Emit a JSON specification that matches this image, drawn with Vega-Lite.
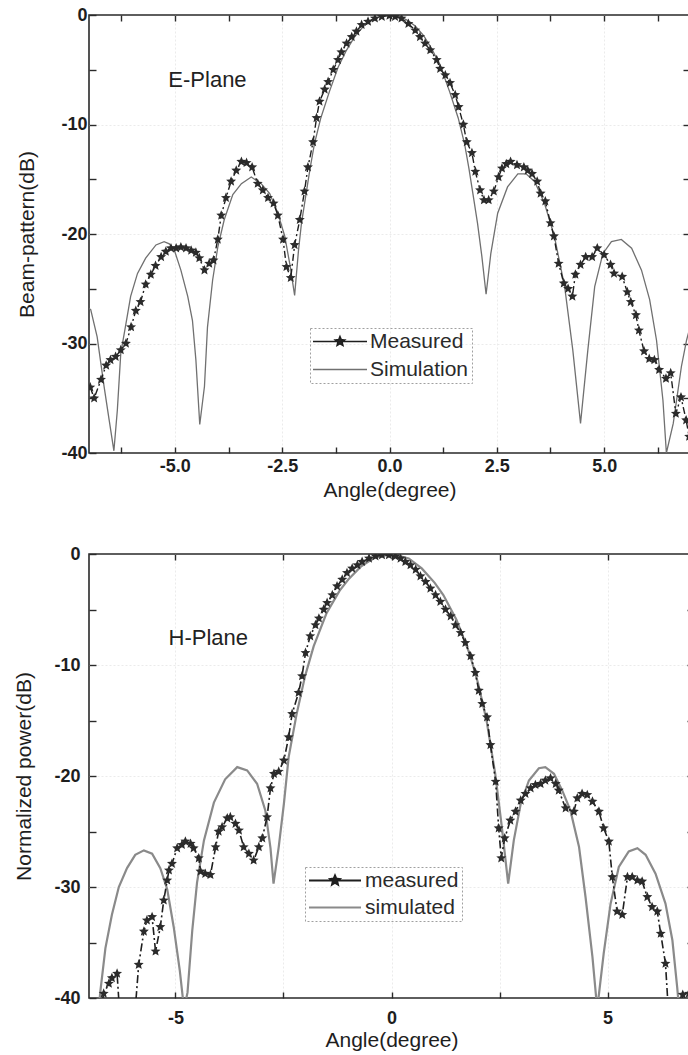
{
  "$schema": "https://vega.github.io/schema/vega-lite/v6.json",
  "background": "white",
  "padding": {"left": 13, "top": 5, "right": 0, "bottom": 0},
  "spacing": 43,
  "datasets": {
    "e_meas": [
      {"angle": -6.97, "db": -34.0, "series": "Measured"}, {"angle": -6.88, "db": -35.0, "series": "Measured"}, {"angle": -6.72, "db": -33.3, "series": "Measured"}, {"angle": -6.6, "db": -32.0, "series": "Measured"}, {"angle": -6.5, "db": -31.5, "series": "Measured"}, {"angle": -6.38, "db": -31.2, "series": "Measured"}, {"angle": -6.26, "db": -30.6, "series": "Measured"}, {"angle": -6.14, "db": -30.0, "series": "Measured"}, {"angle": -6.02, "db": -28.5, "series": "Measured"}, {"angle": -5.91, "db": -27.0, "series": "Measured"}, {"angle": -5.8, "db": -26.2, "series": "Measured"}, {"angle": -5.68, "db": -24.6, "series": "Measured"}, {"angle": -5.56, "db": -23.7, "series": "Measured"}, {"angle": -5.45, "db": -22.9, "series": "Measured"}, {"angle": -5.32, "db": -22.1, "series": "Measured"}, {"angle": -5.21, "db": -21.6, "series": "Measured"}, {"angle": -5.09, "db": -21.3, "series": "Measured"}, {"angle": -4.97, "db": -21.3, "series": "Measured"}, {"angle": -4.86, "db": -21.2, "series": "Measured"}, {"angle": -4.74, "db": -21.3, "series": "Measured"}, {"angle": -4.62, "db": -21.5, "series": "Measured"}, {"angle": -4.51, "db": -21.7, "series": "Measured"}, {"angle": -4.43, "db": -22.2, "series": "Measured"}, {"angle": -4.31, "db": -23.3, "series": "Measured"}, {"angle": -4.2, "db": -22.7, "series": "Measured"}, {"angle": -4.1, "db": -22.4, "series": "Measured"}, {"angle": -4.0, "db": -20.5, "series": "Measured"}, {"angle": -3.92, "db": -18.3, "series": "Measured"}, {"angle": -3.81, "db": -16.7, "series": "Measured"}, {"angle": -3.69, "db": -15.2, "series": "Measured"}, {"angle": -3.57, "db": -14.2, "series": "Measured"}, {"angle": -3.45, "db": -13.4, "series": "Measured"}, {"angle": -3.33, "db": -13.5, "series": "Measured"}, {"angle": -3.2, "db": -13.9, "series": "Measured"}, {"angle": -3.07, "db": -15.4, "series": "Measured"}, {"angle": -2.95, "db": -16.0, "series": "Measured"}, {"angle": -2.83, "db": -16.7, "series": "Measured"}, {"angle": -2.7, "db": -17.2, "series": "Measured"}, {"angle": -2.6, "db": -18.3, "series": "Measured"}, {"angle": -2.48, "db": -20.5, "series": "Measured"}, {"angle": -2.4, "db": -23.0, "series": "Measured"}, {"angle": -2.3, "db": -24.0, "series": "Measured"}, {"angle": -2.21, "db": -21.0, "series": "Measured"}, {"angle": -2.09, "db": -18.7, "series": "Measured"}, {"angle": -1.98, "db": -16.1, "series": "Measured"}, {"angle": -1.9, "db": -13.9, "series": "Measured"}, {"angle": -1.78, "db": -11.6, "series": "Measured"}, {"angle": -1.7, "db": -9.4, "series": "Measured"}, {"angle": -1.63, "db": -7.9, "series": "Measured"}, {"angle": -1.51, "db": -6.8, "series": "Measured"}, {"angle": -1.43, "db": -6.1, "series": "Measured"}, {"angle": -1.31, "db": -5.0, "series": "Measured"}, {"angle": -1.2, "db": -4.1, "series": "Measured"}, {"angle": -1.12, "db": -3.4, "series": "Measured"}, {"angle": -1.0, "db": -2.6, "series": "Measured"}, {"angle": -0.88, "db": -2.0, "series": "Measured"}, {"angle": -0.77, "db": -1.5, "series": "Measured"}, {"angle": -0.65, "db": -0.9, "series": "Measured"}, {"angle": -0.5, "db": -0.6, "series": "Measured"}, {"angle": -0.34, "db": -0.3, "series": "Measured"}, {"angle": -0.18, "db": -0.15, "series": "Measured"}, {"angle": 0.0, "db": -0.05, "series": "Measured"}, {"angle": 0.13, "db": -0.15, "series": "Measured"}, {"angle": 0.28, "db": -0.3, "series": "Measured"}, {"angle": 0.44, "db": -0.8, "series": "Measured"}, {"angle": 0.6, "db": -1.4, "series": "Measured"}, {"angle": 0.71, "db": -2.0, "series": "Measured"}, {"angle": 0.83, "db": -2.6, "series": "Measured"}, {"angle": 0.95, "db": -3.2, "series": "Measured"}, {"angle": 1.1, "db": -4.1, "series": "Measured"}, {"angle": 1.18, "db": -4.9, "series": "Measured"}, {"angle": 1.3, "db": -5.5, "series": "Measured"}, {"angle": 1.41, "db": -6.2, "series": "Measured"}, {"angle": 1.53, "db": -7.3, "series": "Measured"}, {"angle": 1.61, "db": -8.4, "series": "Measured"}, {"angle": 1.72, "db": -10.0, "series": "Measured"}, {"angle": 1.8, "db": -11.6, "series": "Measured"}, {"angle": 1.92, "db": -12.6, "series": "Measured"}, {"angle": 2.0, "db": -14.3, "series": "Measured"}, {"angle": 2.11, "db": -16.0, "series": "Measured"}, {"angle": 2.2, "db": -16.9, "series": "Measured"}, {"angle": 2.31, "db": -16.9, "series": "Measured"}, {"angle": 2.43, "db": -16.1, "series": "Measured"}, {"angle": 2.54, "db": -14.8, "series": "Measured"}, {"angle": 2.62, "db": -14.0, "series": "Measured"}, {"angle": 2.72, "db": -13.6, "series": "Measured"}, {"angle": 2.82, "db": -13.4, "series": "Measured"}, {"angle": 2.97, "db": -13.7, "series": "Measured"}, {"angle": 3.13, "db": -13.9, "series": "Measured"}, {"angle": 3.22, "db": -14.2, "series": "Measured"}, {"angle": 3.32, "db": -14.5, "series": "Measured"}, {"angle": 3.44, "db": -15.2, "series": "Measured"}, {"angle": 3.52, "db": -16.3, "series": "Measured"}, {"angle": 3.63, "db": -17.0, "series": "Measured"}, {"angle": 3.75, "db": -19.0, "series": "Measured"}, {"angle": 3.83, "db": -20.2, "series": "Measured"}, {"angle": 3.94, "db": -22.7, "series": "Measured"}, {"angle": 4.06, "db": -24.5, "series": "Measured"}, {"angle": 4.16, "db": -25.0, "series": "Measured"}, {"angle": 4.26, "db": -25.7, "series": "Measured"}, {"angle": 4.33, "db": -23.7, "series": "Measured"}, {"angle": 4.45, "db": -22.8, "series": "Measured"}, {"angle": 4.57, "db": -22.1, "series": "Measured"}, {"angle": 4.72, "db": -22.1, "series": "Measured"}, {"angle": 4.84, "db": -21.3, "series": "Measured"}, {"angle": 5.0, "db": -21.9, "series": "Measured"}, {"angle": 5.15, "db": -22.8, "series": "Measured"}, {"angle": 5.23, "db": -23.6, "series": "Measured"}, {"angle": 5.42, "db": -23.9, "series": "Measured"}, {"angle": 5.54, "db": -25.3, "series": "Measured"}, {"angle": 5.62, "db": -26.2, "series": "Measured"}, {"angle": 5.74, "db": -27.4, "series": "Measured"}, {"angle": 5.81, "db": -28.8, "series": "Measured"}, {"angle": 5.93, "db": -30.7, "series": "Measured"}, {"angle": 6.05, "db": -31.4, "series": "Measured"}, {"angle": 6.17, "db": -31.5, "series": "Measured"}, {"angle": 6.28, "db": -32.4, "series": "Measured"}, {"angle": 6.44, "db": -33.2, "series": "Measured"}, {"angle": 6.55, "db": -32.7, "series": "Measured"}, {"angle": 6.67, "db": -36.4, "series": "Measured"}, {"angle": 6.79, "db": -34.9, "series": "Measured"}, {"angle": 6.91, "db": -37.0, "series": "Measured"}, {"angle": 6.98, "db": -38.5, "series": "Measured"}
    ],
    "e_sim": [
      {"angle": -7.0, "db": -26.8, "series": "Simulation"}, {"angle": -6.96, "db": -26.9, "series": "Simulation"}, {"angle": -6.81, "db": -29.4, "series": "Simulation"}, {"angle": -6.65, "db": -33.9, "series": "Simulation"}, {"angle": -6.53, "db": -37.0, "series": "Simulation"}, {"angle": -6.42, "db": -39.8, "series": "Simulation"}, {"angle": -6.34, "db": -36.1, "series": "Simulation"}, {"angle": -6.26, "db": -30.9, "series": "Simulation"}, {"angle": -6.14, "db": -28.2, "series": "Simulation"}, {"angle": -6.03, "db": -25.7, "series": "Simulation"}, {"angle": -5.87, "db": -23.6, "series": "Simulation"}, {"angle": -5.68, "db": -22.2, "series": "Simulation"}, {"angle": -5.44, "db": -21.0, "series": "Simulation"}, {"angle": -5.25, "db": -20.7, "series": "Simulation"}, {"angle": -5.13, "db": -20.9, "series": "Simulation"}, {"angle": -5.01, "db": -21.5, "series": "Simulation"}, {"angle": -4.86, "db": -23.3, "series": "Simulation"}, {"angle": -4.7, "db": -25.7, "series": "Simulation"}, {"angle": -4.59, "db": -27.9, "series": "Simulation"}, {"angle": -4.51, "db": -31.5, "series": "Simulation"}, {"angle": -4.42, "db": -37.4, "series": "Simulation"}, {"angle": -4.31, "db": -33.9, "series": "Simulation"}, {"angle": -4.24, "db": -28.5, "series": "Simulation"}, {"angle": -4.12, "db": -24.2, "series": "Simulation"}, {"angle": -4.0, "db": -21.2, "series": "Simulation"}, {"angle": -3.85, "db": -18.7, "series": "Simulation"}, {"angle": -3.65, "db": -16.4, "series": "Simulation"}, {"angle": -3.45, "db": -15.4, "series": "Simulation"}, {"angle": -3.22, "db": -14.8, "series": "Simulation"}, {"angle": -2.99, "db": -15.4, "series": "Simulation"}, {"angle": -2.79, "db": -16.3, "series": "Simulation"}, {"angle": -2.6, "db": -18.1, "series": "Simulation"}, {"angle": -2.44, "db": -20.2, "series": "Simulation"}, {"angle": -2.32, "db": -22.8, "series": "Simulation"}, {"angle": -2.21, "db": -25.6, "series": "Simulation"}, {"angle": -2.12, "db": -21.5, "series": "Simulation"}, {"angle": -2.05, "db": -19.0, "series": "Simulation"}, {"angle": -1.95, "db": -16.5, "series": "Simulation"}, {"angle": -1.85, "db": -14.0, "series": "Simulation"}, {"angle": -1.75, "db": -11.8, "series": "Simulation"}, {"angle": -1.6, "db": -9.4, "series": "Simulation"}, {"angle": -1.4, "db": -7.0, "series": "Simulation"}, {"angle": -1.2, "db": -4.8, "series": "Simulation"}, {"angle": -1.0, "db": -3.2, "series": "Simulation"}, {"angle": -0.8, "db": -1.9, "series": "Simulation"}, {"angle": -0.6, "db": -1.0, "series": "Simulation"}, {"angle": -0.4, "db": -0.45, "series": "Simulation"}, {"angle": -0.2, "db": -0.1, "series": "Simulation"}, {"angle": 0.0, "db": 0.0, "series": "Simulation"}, {"angle": 0.2, "db": -0.1, "series": "Simulation"}, {"angle": 0.4, "db": -0.45, "series": "Simulation"}, {"angle": 0.6, "db": -1.0, "series": "Simulation"}, {"angle": 0.8, "db": -1.9, "series": "Simulation"}, {"angle": 1.0, "db": -3.2, "series": "Simulation"}, {"angle": 1.2, "db": -4.8, "series": "Simulation"}, {"angle": 1.4, "db": -7.0, "series": "Simulation"}, {"angle": 1.6, "db": -9.4, "series": "Simulation"}, {"angle": 1.75, "db": -11.8, "series": "Simulation"}, {"angle": 1.85, "db": -14.0, "series": "Simulation"}, {"angle": 1.95, "db": -16.5, "series": "Simulation"}, {"angle": 2.05, "db": -19.0, "series": "Simulation"}, {"angle": 2.15, "db": -22.0, "series": "Simulation"}, {"angle": 2.25, "db": -25.5, "series": "Simulation"}, {"angle": 2.36, "db": -21.8, "series": "Simulation"}, {"angle": 2.52, "db": -18.1, "series": "Simulation"}, {"angle": 2.75, "db": -15.7, "series": "Simulation"}, {"angle": 2.99, "db": -14.5, "series": "Simulation"}, {"angle": 3.18, "db": -14.5, "series": "Simulation"}, {"angle": 3.38, "db": -15.2, "series": "Simulation"}, {"angle": 3.61, "db": -17.2, "series": "Simulation"}, {"angle": 3.84, "db": -20.2, "series": "Simulation"}, {"angle": 4.08, "db": -24.8, "series": "Simulation"}, {"angle": 4.27, "db": -30.6, "series": "Simulation"}, {"angle": 4.45, "db": -37.3, "series": "Simulation"}, {"angle": 4.62, "db": -30.6, "series": "Simulation"}, {"angle": 4.78, "db": -24.8, "series": "Simulation"}, {"angle": 4.97, "db": -21.8, "series": "Simulation"}, {"angle": 5.17, "db": -20.7, "series": "Simulation"}, {"angle": 5.4, "db": -20.5, "series": "Simulation"}, {"angle": 5.64, "db": -21.3, "series": "Simulation"}, {"angle": 5.87, "db": -23.3, "series": "Simulation"}, {"angle": 6.06, "db": -26.0, "series": "Simulation"}, {"angle": 6.22, "db": -29.7, "series": "Simulation"}, {"angle": 6.37, "db": -35.2, "series": "Simulation"}, {"angle": 6.45, "db": -40.0, "series": "Simulation"}, {"angle": 6.61, "db": -37.3, "series": "Simulation"}, {"angle": 6.8, "db": -32.1, "series": "Simulation"}, {"angle": 6.92, "db": -29.7, "series": "Simulation"}, {"angle": 7.0, "db": -28.5, "series": "Simulation"}
    ],
    "h_meas": [
      {"angle": -6.75, "db": -41.5, "series": "measured"}, {"angle": -6.66, "db": -39.6, "series": "measured"}, {"angle": -6.54, "db": -38.7, "series": "measured"}, {"angle": -6.47, "db": -38.2, "series": "measured"}, {"angle": -6.35, "db": -37.8, "series": "measured"}, {"angle": -6.28, "db": -42.0, "series": "measured"}, {"angle": -5.95, "db": -42.0, "series": "measured"}, {"angle": -5.85, "db": -37.0, "series": "measured"}, {"angle": -5.73, "db": -34.0, "series": "measured"}, {"angle": -5.66, "db": -33.0, "series": "measured"}, {"angle": -5.54, "db": -32.7, "series": "measured"}, {"angle": -5.46, "db": -35.8, "series": "measured"}, {"angle": -5.35, "db": -33.6, "series": "measured"}, {"angle": -5.27, "db": -31.2, "series": "measured"}, {"angle": -5.19, "db": -29.4, "series": "measured"}, {"angle": -5.15, "db": -28.5, "series": "measured"}, {"angle": -5.08, "db": -27.9, "series": "measured"}, {"angle": -4.96, "db": -26.5, "series": "measured"}, {"angle": -4.85, "db": -26.2, "series": "measured"}, {"angle": -4.77, "db": -25.9, "series": "measured"}, {"angle": -4.65, "db": -26.1, "series": "measured"}, {"angle": -4.58, "db": -26.5, "series": "measured"}, {"angle": -4.46, "db": -27.4, "series": "measured"}, {"angle": -4.42, "db": -28.6, "series": "measured"}, {"angle": -4.31, "db": -28.8, "series": "measured"}, {"angle": -4.19, "db": -28.9, "series": "measured"}, {"angle": -4.07, "db": -26.4, "series": "measured"}, {"angle": -4.0, "db": -25.0, "series": "measured"}, {"angle": -3.92, "db": -24.6, "series": "measured"}, {"angle": -3.8, "db": -23.8, "series": "measured"}, {"angle": -3.73, "db": -23.7, "series": "measured"}, {"angle": -3.61, "db": -24.3, "series": "measured"}, {"angle": -3.53, "db": -24.9, "series": "measured"}, {"angle": -3.42, "db": -26.4, "series": "measured"}, {"angle": -3.3, "db": -27.0, "series": "measured"}, {"angle": -3.19, "db": -27.6, "series": "measured"}, {"angle": -3.07, "db": -26.4, "series": "measured"}, {"angle": -2.99, "db": -25.6, "series": "measured"}, {"angle": -2.88, "db": -23.7, "series": "measured"}, {"angle": -2.8, "db": -21.1, "series": "measured"}, {"angle": -2.72, "db": -19.8, "series": "measured"}, {"angle": -2.61, "db": -19.6, "series": "measured"}, {"angle": -2.49, "db": -18.6, "series": "measured"}, {"angle": -2.38, "db": -16.5, "series": "measured"}, {"angle": -2.3, "db": -14.4, "series": "measured"}, {"angle": -2.15, "db": -12.5, "series": "measured"}, {"angle": -2.07, "db": -11.0, "series": "measured"}, {"angle": -1.99, "db": -8.9, "series": "measured"}, {"angle": -1.88, "db": -7.4, "series": "measured"}, {"angle": -1.76, "db": -6.4, "series": "measured"}, {"angle": -1.68, "db": -5.8, "series": "measured"}, {"angle": -1.57, "db": -5.0, "series": "measured"}, {"angle": -1.49, "db": -4.4, "series": "measured"}, {"angle": -1.37, "db": -3.7, "series": "measured"}, {"angle": -1.26, "db": -2.9, "series": "measured"}, {"angle": -1.14, "db": -2.3, "series": "measured"}, {"angle": -1.03, "db": -1.7, "series": "measured"}, {"angle": -0.91, "db": -1.3, "series": "measured"}, {"angle": -0.79, "db": -1.0, "series": "measured"}, {"angle": -0.68, "db": -0.7, "series": "measured"}, {"angle": -0.52, "db": -0.4, "series": "measured"}, {"angle": -0.37, "db": -0.2, "series": "measured"}, {"angle": -0.22, "db": -0.1, "series": "measured"}, {"angle": -0.06, "db": -0.1, "series": "measured"}, {"angle": 0.09, "db": -0.2, "series": "measured"}, {"angle": 0.21, "db": -0.4, "series": "measured"}, {"angle": 0.32, "db": -0.7, "series": "measured"}, {"angle": 0.44, "db": -1.0, "series": "measured"}, {"angle": 0.56, "db": -1.4, "series": "measured"}, {"angle": 0.67, "db": -2.0, "series": "measured"}, {"angle": 0.79, "db": -2.5, "series": "measured"}, {"angle": 0.9, "db": -3.1, "series": "measured"}, {"angle": 1.02, "db": -3.7, "series": "measured"}, {"angle": 1.13, "db": -4.3, "series": "measured"}, {"angle": 1.25, "db": -5.0, "series": "measured"}, {"angle": 1.37, "db": -5.6, "series": "measured"}, {"angle": 1.48, "db": -6.4, "series": "measured"}, {"angle": 1.6, "db": -7.1, "series": "measured"}, {"angle": 1.71, "db": -8.0, "series": "measured"}, {"angle": 1.83, "db": -9.2, "series": "measured"}, {"angle": 1.94, "db": -10.7, "series": "measured"}, {"angle": 2.02, "db": -12.3, "series": "measured"}, {"angle": 2.1, "db": -13.5, "series": "measured"}, {"angle": 2.21, "db": -14.7, "series": "measured"}, {"angle": 2.29, "db": -17.2, "series": "measured"}, {"angle": 2.41, "db": -20.5, "series": "measured"}, {"angle": 2.48, "db": -24.7, "series": "measured"}, {"angle": 2.54, "db": -27.4, "series": "measured"}, {"angle": 2.62, "db": -25.6, "series": "measured"}, {"angle": 2.75, "db": -24.0, "series": "measured"}, {"angle": 2.87, "db": -23.2, "series": "measured"}, {"angle": 2.99, "db": -22.2, "series": "measured"}, {"angle": 3.1, "db": -21.6, "series": "measured"}, {"angle": 3.22, "db": -21.1, "series": "measured"}, {"angle": 3.33, "db": -20.8, "series": "measured"}, {"angle": 3.45, "db": -20.7, "series": "measured"}, {"angle": 3.56, "db": -20.4, "series": "measured"}, {"angle": 3.68, "db": -20.2, "series": "measured"}, {"angle": 3.8, "db": -20.7, "series": "measured"}, {"angle": 3.87, "db": -21.3, "series": "measured"}, {"angle": 4.03, "db": -22.9, "series": "measured"}, {"angle": 4.22, "db": -23.2, "series": "measured"}, {"angle": 4.3, "db": -22.0, "series": "measured"}, {"angle": 4.41, "db": -21.6, "series": "measured"}, {"angle": 4.53, "db": -21.7, "series": "measured"}, {"angle": 4.65, "db": -22.3, "series": "measured"}, {"angle": 4.8, "db": -23.2, "series": "measured"}, {"angle": 4.91, "db": -24.7, "series": "measured"}, {"angle": 5.03, "db": -25.9, "series": "measured"}, {"angle": 5.11, "db": -29.1, "series": "measured"}, {"angle": 5.22, "db": -32.2, "series": "measured"}, {"angle": 5.34, "db": -32.5, "series": "measured"}, {"angle": 5.46, "db": -29.1, "series": "measured"}, {"angle": 5.57, "db": -29.1, "series": "measured"}, {"angle": 5.69, "db": -29.4, "series": "measured"}, {"angle": 5.8, "db": -29.5, "series": "measured"}, {"angle": 5.92, "db": -30.9, "series": "measured"}, {"angle": 6.03, "db": -31.8, "series": "measured"}, {"angle": 6.15, "db": -32.2, "series": "measured"}, {"angle": 6.23, "db": -34.2, "series": "measured"}, {"angle": 6.34, "db": -36.9, "series": "measured"}, {"angle": 6.42, "db": -42.0, "series": "measured"}, {"angle": 6.68, "db": -42.0, "series": "measured"}, {"angle": 6.74, "db": -39.7, "series": "measured"}, {"angle": 6.88, "db": -39.6, "series": "measured"}, {"angle": 7.0, "db": -39.8, "series": "measured"}
    ],
    "h_sim": [
      {"angle": -6.8, "db": -42.0, "series": "simulated"}, {"angle": -6.74, "db": -39.5, "series": "simulated"}, {"angle": -6.62, "db": -35.5, "series": "simulated"}, {"angle": -6.47, "db": -32.5, "series": "simulated"}, {"angle": -6.31, "db": -30.0, "series": "simulated"}, {"angle": -6.12, "db": -28.3, "series": "simulated"}, {"angle": -5.93, "db": -27.1, "series": "simulated"}, {"angle": -5.73, "db": -26.7, "series": "simulated"}, {"angle": -5.54, "db": -27.0, "series": "simulated"}, {"angle": -5.35, "db": -28.3, "series": "simulated"}, {"angle": -5.19, "db": -30.2, "series": "simulated"}, {"angle": -5.04, "db": -33.6, "series": "simulated"}, {"angle": -4.9, "db": -37.5, "series": "simulated"}, {"angle": -4.8, "db": -41.0, "series": "simulated"}, {"angle": -4.72, "db": -39.5, "series": "simulated"}, {"angle": -4.61, "db": -33.9, "series": "simulated"}, {"angle": -4.5, "db": -29.6, "series": "simulated"}, {"angle": -4.34, "db": -25.8, "series": "simulated"}, {"angle": -4.11, "db": -22.4, "series": "simulated"}, {"angle": -3.85, "db": -20.3, "series": "simulated"}, {"angle": -3.57, "db": -19.2, "series": "simulated"}, {"angle": -3.34, "db": -19.5, "series": "simulated"}, {"angle": -3.11, "db": -20.7, "series": "simulated"}, {"angle": -2.92, "db": -23.1, "series": "simulated"}, {"angle": -2.8, "db": -26.5, "series": "simulated"}, {"angle": -2.73, "db": -29.7, "series": "simulated"}, {"angle": -2.61, "db": -26.4, "series": "simulated"}, {"angle": -2.49, "db": -22.5, "series": "simulated"}, {"angle": -2.38, "db": -18.3, "series": "simulated"}, {"angle": -2.2, "db": -14.5, "series": "simulated"}, {"angle": -2.0, "db": -11.0, "series": "simulated"}, {"angle": -1.8, "db": -8.3, "series": "simulated"}, {"angle": -1.5, "db": -5.3, "series": "simulated"}, {"angle": -1.2, "db": -3.3, "series": "simulated"}, {"angle": -1.0, "db": -2.3, "series": "simulated"}, {"angle": -0.7, "db": -1.1, "series": "simulated"}, {"angle": -0.4, "db": -0.35, "series": "simulated"}, {"angle": 0.0, "db": 0.0, "series": "simulated"}, {"angle": 0.4, "db": -0.4, "series": "simulated"}, {"angle": 0.7, "db": -1.3, "series": "simulated"}, {"angle": 1.0, "db": -2.6, "series": "simulated"}, {"angle": 1.2, "db": -3.7, "series": "simulated"}, {"angle": 1.5, "db": -5.9, "series": "simulated"}, {"angle": 1.8, "db": -8.9, "series": "simulated"}, {"angle": 2.0, "db": -11.6, "series": "simulated"}, {"angle": 2.2, "db": -15.0, "series": "simulated"}, {"angle": 2.4, "db": -19.8, "series": "simulated"}, {"angle": 2.55, "db": -24.5, "series": "simulated"}, {"angle": 2.7, "db": -29.7, "series": "simulated"}, {"angle": 2.83, "db": -25.8, "series": "simulated"}, {"angle": 2.99, "db": -22.5, "series": "simulated"}, {"angle": 3.18, "db": -20.4, "series": "simulated"}, {"angle": 3.41, "db": -19.3, "series": "simulated"}, {"angle": 3.56, "db": -19.2, "series": "simulated"}, {"angle": 3.76, "db": -19.8, "series": "simulated"}, {"angle": 3.95, "db": -21.3, "series": "simulated"}, {"angle": 4.14, "db": -23.1, "series": "simulated"}, {"angle": 4.34, "db": -26.4, "series": "simulated"}, {"angle": 4.49, "db": -30.9, "series": "simulated"}, {"angle": 4.65, "db": -36.3, "series": "simulated"}, {"angle": 4.76, "db": -41.0, "series": "simulated"}, {"angle": 4.91, "db": -36.0, "series": "simulated"}, {"angle": 5.07, "db": -31.5, "series": "simulated"}, {"angle": 5.26, "db": -28.2, "series": "simulated"}, {"angle": 5.49, "db": -26.8, "series": "simulated"}, {"angle": 5.69, "db": -26.5, "series": "simulated"}, {"angle": 5.88, "db": -27.1, "series": "simulated"}, {"angle": 6.11, "db": -28.8, "series": "simulated"}, {"angle": 6.34, "db": -31.5, "series": "simulated"}, {"angle": 6.5, "db": -34.8, "series": "simulated"}, {"angle": 6.61, "db": -39.0, "series": "simulated"}, {"angle": 6.68, "db": -42.0, "series": "simulated"}
    ]
  },
  "vconcat": [
    {
      "width": 601,
      "height": 438,
      "layer": [
        {
          "data": {"name": "e_sim"},
          "mark": {"type": "line", "strokeWidth": 1.3, "clip": true},
          "encoding": {
            "x": {"field": "angle", "type": "quantitative", "scale": {"domain": [-7, 7], "nice": false, "zero": false},
              "axis": {"orient": "bottom", "values": [-6.25, -5, -3.75, -2.5, -1.25, 0, 1.25, 2.5, 3.75, 5, 6.25],
                "labelExpr": "datum.value % 2.5 == 0 ? (datum.value < 0 ? '-' : '') + format(abs(datum.value), '.1f') : ''",
                "tickSize": -6, "labelPadding": 10, "title": "Angle(degree)", "titlePadding": 4,
                "grid": true, "gridColor": {"condition": {"test": "datum.value % 2.5 == 0", "value": "#ebebeb"}, "value": "transparent"}}},
            "y": {"field": "db", "type": "quantitative", "scale": {"domain": [-40, 0], "nice": false, "zero": false},
              "axis": {"orient": "left", "values": [-40, -35, -30, -25, -20, -15, -10, -5, 0],
                "labelExpr": "datum.value % 10 == 0 ? (datum.value < 0 ? '-' + abs(datum.value) : '0') : ''",
                "tickSize": -7, "labelPadding": 9, "title": "Beam-pattern(dB)", "titlePadding": 23,
                "grid": true, "gridColor": {"condition": {"test": "datum.value % 10 == 0 && datum.value > -40 && datum.value < 0", "value": "#ebebeb"}, "value": "transparent"}}},
            "color": {"field": "series", "type": "nominal",
              "scale": {"domain": ["Measured", "Simulation"], "range": ["#1e1e1e", "#707070"]},
              "legend": {"orient": "none", "legendX": 221, "legendY": 313, "title": null,
                "symbolSize": 100, "symbolOffset": 16.5, "labelOffset": 19.5, "rowPadding": 6, "padding": 3,
                "strokeColor": "#a0a0a0", "labelFont": "Liberation Sans", "labelFontSize": 21, "labelColor": "#2a2a2a",
                "encode": {
                  "symbols": {"update": {
                    "shape": {"signal": "datum.value === 'Measured' ? 'M-5.4,0L5.4,0M0,-1L0.265,-0.364L0.951,-0.309L0.428,0.139L0.588,0.809L0,0.45L-0.588,0.809L-0.428,0.139L-0.951,-0.309L-0.265,-0.364Z' : 'M-5.4,0L5.4,0'"},
                    "size": {"value": 100},
                    "strokeDash": {"value": [1, 0]},
                    "fill": {"signal": "datum.value === 'Measured' ? '#2a2a2a' : 'transparent'"},
                    "stroke": {"signal": "datum.value === 'Measured' ? '#1e1e1e' : '#707070'"},
                    "strokeWidth": {"value": 1.5}
                  }},
                  "legend": {"update": {"strokeDash": {"value": [2, 2]}}}
                }}}
          }
        },
        {
          "data": {"name": "e_meas"},
          "mark": {"type": "line", "strokeWidth": 1.4, "strokeDash": [7, 3, 2, 3], "clip": true},
          "encoding": {
            "x": {"field": "angle", "type": "quantitative",
              "axis": {"orient": "top", "values": [-6.25, -5, -3.75, -2.5, -1.25, 0, 1.25, 2.5, 3.75, 5, 6.25], "labels": false, "title": null, "tickSize": -6, "grid": false}},
            "y": {"field": "db", "type": "quantitative",
              "axis": {"orient": "right", "values": [-35, -30, -25, -20, -15, -10, -5], "labels": false, "title": null, "tickSize": -7, "grid": false}},
            "color": {"field": "series", "type": "nominal"}
          }
        },
        {
          "data": {"name": "e_meas"},
          "mark": {"type": "point", "shape": "M0,-1L0.265,-0.364L0.951,-0.309L0.428,0.139L0.588,0.809L0,0.45L-0.588,0.809L-0.428,0.139L-0.951,-0.309L-0.265,-0.364Z", "filled": true, "size": 110, "color": "#2b2b2b", "opacity": 1, "clip": true},
          "encoding": {
            "x": {"field": "angle", "type": "quantitative", "axis": null},
            "y": {"field": "db", "type": "quantitative", "axis": null}
          }
        },
        {
          "data": {"values": [{"label": "E-Plane"}]},
          "mark": {"type": "text", "font": "Liberation Sans", "fontSize": 22, "color": "#222"},
          "encoding": {
            "x": {"datum": -4.24, "type": "quantitative", "axis": null},
            "y": {"datum": -5.9, "type": "quantitative", "axis": null},
            "text": {"field": "label"}
          }
        }
      ],
      "resolve": {"axis": {"x": "independent", "y": "independent"}}
    },
    {
      "width": 605,
      "height": 444,
      "layer": [
        {
          "data": {"name": "h_sim"},
          "mark": {"type": "line", "strokeWidth": 2.2, "clip": true},
          "encoding": {
            "x": {"field": "angle", "type": "quantitative", "scale": {"domain": [-7, 7], "nice": false, "zero": false},
              "axis": {"orient": "bottom", "values": [-5, -2.5, 0, 2.5, 5],
                "labelExpr": "datum.value % 5 == 0 ? (datum.value < 0 ? '-' + abs(datum.value) : '' + datum.value) : ''",
                "tickSize": -6, "labelPadding": 17, "title": "Angle(degree)", "titlePadding": 2,
                "grid": true, "gridColor": {"condition": {"test": "datum.value % 2.5 == 0", "value": "#ebebeb"}, "value": "transparent"}}},
            "y": {"field": "db", "type": "quantitative", "scale": {"domain": [-40, 0], "nice": false, "zero": false},
              "axis": {"orient": "left", "values": [-40, -35, -30, -25, -20, -15, -10, -5, 0],
                "labelExpr": "datum.value % 10 == 0 ? (datum.value < 0 ? '-' + abs(datum.value) : '0') : ''",
                "tickSize": -7, "labelPadding": 16, "title": "Normalized power(dB)", "titlePadding": 19,
                "grid": true, "gridColor": {"condition": {"test": "datum.value % 10 == 0 && datum.value > -40 && datum.value < 0", "value": "#ebebeb"}, "value": "transparent"}}},
            "color": {"field": "series", "type": "nominal",
              "scale": {"domain": ["measured", "simulated"], "range": ["#1e1e1e", "#8a8a8a"]},
              "legend": {"orient": "none", "legendX": 216, "legendY": 313, "title": null,
                "symbolSize": 100, "symbolOffset": 16.5, "labelOffset": 19.5, "rowPadding": 5, "padding": 3,
                "strokeColor": "#a0a0a0", "labelFont": "Liberation Sans", "labelFontSize": 21, "labelColor": "#2a2a2a",
                "encode": {
                  "symbols": {"update": {
                    "shape": {"signal": "datum.value === 'measured' ? 'M-5.2,0L5.2,0M0,-1L0.265,-0.364L0.951,-0.309L0.428,0.139L0.588,0.809L0,0.45L-0.588,0.809L-0.428,0.139L-0.951,-0.309L-0.265,-0.364Z' : 'M-5.2,0L5.2,0'"},
                    "size": {"value": 100},
                    "strokeDash": {"value": [1, 0]},
                    "fill": {"signal": "datum.value === 'measured' ? '#2a2a2a' : 'transparent'"},
                    "stroke": {"signal": "datum.value === 'measured' ? '#1e1e1e' : '#8a8a8a'"},
                    "strokeWidth": {"value": 2}
                  }},
                  "legend": {"update": {"strokeDash": {"value": [2, 2]}}}
                }}}
          }
        },
        {
          "data": {"name": "h_meas"},
          "mark": {"type": "line", "strokeWidth": 1.6, "strokeDash": [8, 3, 2, 3], "clip": true},
          "encoding": {
            "x": {"field": "angle", "type": "quantitative",
              "axis": {"orient": "top", "values": [-5, -2.5, 0, 2.5, 5], "labels": false, "title": null, "tickSize": -6, "grid": false}},
            "y": {"field": "db", "type": "quantitative",
              "axis": {"orient": "right", "values": [-35, -30, -25, -20, -15, -10, -5], "labels": false, "title": null, "tickSize": -7, "grid": false}},
            "color": {"field": "series", "type": "nominal"}
          }
        },
        {
          "data": {"name": "h_meas"},
          "mark": {"type": "point", "shape": "M0,-1L0.265,-0.364L0.951,-0.309L0.428,0.139L0.588,0.809L0,0.45L-0.588,0.809L-0.428,0.139L-0.951,-0.309L-0.265,-0.364Z", "filled": true, "size": 110, "color": "#2b2b2b", "opacity": 1, "clip": true},
          "encoding": {
            "x": {"field": "angle", "type": "quantitative", "axis": null},
            "y": {"field": "db", "type": "quantitative", "axis": null}
          }
        },
        {
          "data": {"values": [{"label": "H-Plane"}]},
          "mark": {"type": "text", "font": "Liberation Sans", "fontSize": 22, "color": "#222"},
          "encoding": {
            "x": {"datum": -4.24, "type": "quantitative", "axis": null},
            "y": {"datum": -7.6, "type": "quantitative", "axis": null},
            "text": {"field": "label"}
          }
        }
      ],
      "resolve": {"axis": {"x": "independent", "y": "independent"}}
    }
  ],
  "resolve": {"scale": {"x": "independent", "y": "independent", "color": "independent"}, "legend": {"color": "independent"}},
  "config": {
    "view": {"stroke": "#2a2a2a", "strokeWidth": 1.6},
    "axis": {"domain": false, "tickColor": "#2a2a2a", "tickWidth": 1.4, "labelFont": "Liberation Sans", "labelFontWeight": "bold", "labelFontSize": 18, "labelColor": "#1e1e1e", "titleFont": "Liberation Sans", "titleFontSize": 21, "titleFontWeight": "normal", "titleColor": "#1e1e1e", "labelOverlap": false, "labelFlush": false, "gridDash": [2, 2]}
  }
}
